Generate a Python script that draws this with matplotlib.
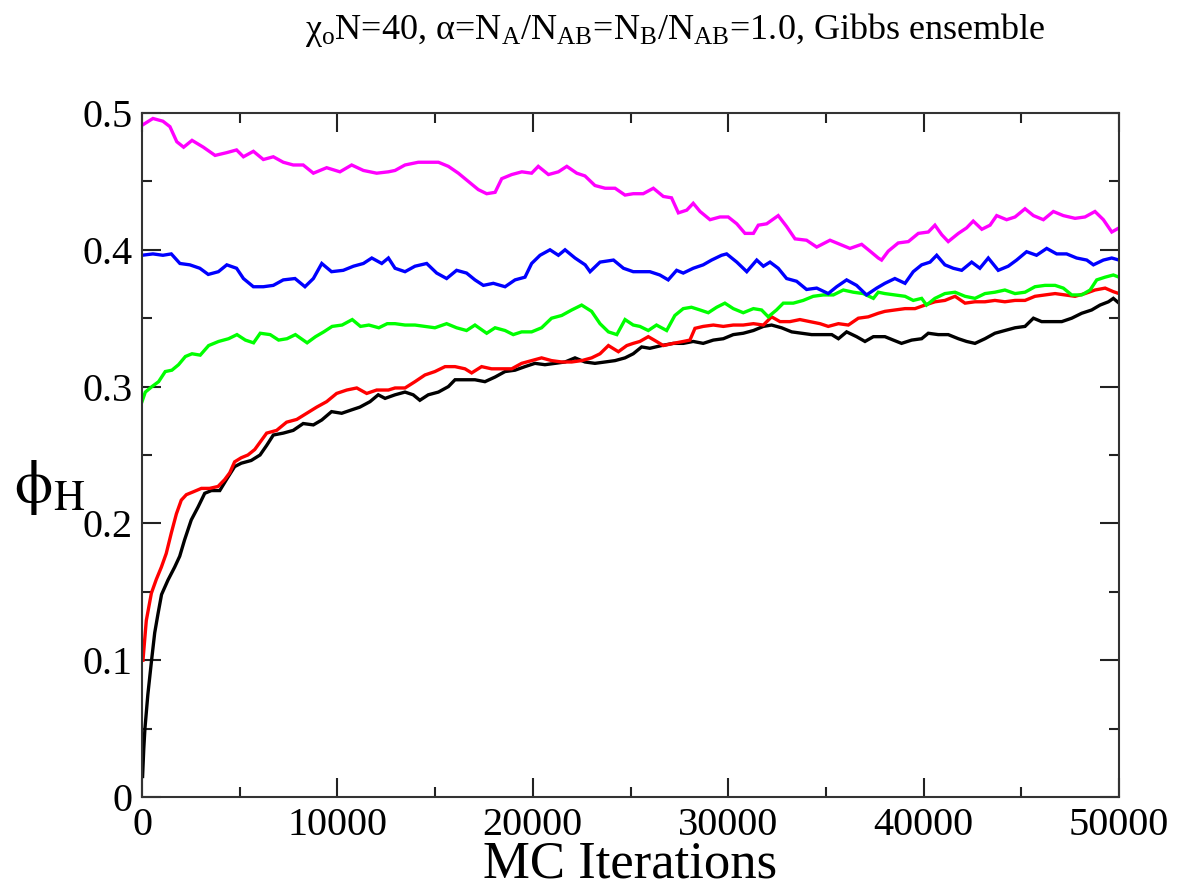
import matplotlib
matplotlib.use("Agg")
import matplotlib.pyplot as plt
from matplotlib.ticker import MultipleLocator

# ---- data (MC iteration, phi_H) ----
black_pts = [(30,0.015),(90,0.035),(150,0.05),(300,0.075),(490,0.100),(650,0.120),(820,0.134),(1000,0.148),
 (1330,0.1586),(1670,0.168),(1930,0.176),(2180,0.188),(2520,0.2025),(2870,0.212),(3210,0.222),(3550,0.224),
 (3980,0.224),(4320,0.232),(4740,0.2415),(5080,0.244),(5590,0.246),(6040,0.250),(6380,0.257),(6720,0.2646),
 (7230,0.266),(7740,0.268),(8250,0.273),(8770,0.272),(9200,0.2756),(9700,0.2817),(10220,0.2805),(10730,0.283),
 (11150,0.285),(11670,0.289),(12090,0.294),(12440,0.2914),(12950,0.294),(13460,0.296),(13880,0.294),(14220,0.290),
 (14650,0.294),(15170,0.296),(15680,0.300),(16020,0.305),(16530,0.305),(17040,0.305),(17550,0.3036),(18070,0.307),
 (18580,0.311),(19090,0.312),(19600,0.3146),(20110,0.317),(20620,0.316),(21140,0.317),(21650,0.318),(22160,0.321),
 (22670,0.318),(23180,0.317),(23700,0.318),(24210,0.319),(24720,0.321),(25140,0.324),(25570,0.329),(25990,0.328),
 (26590,0.330),(27190,0.3316),(27700,0.3316),(28210,0.333),(28720,0.3316),(29240,0.334),(29750,0.335),(30260,0.338),
 (30770,0.339),(31290,0.341),(31800,0.344),(32220,0.345),(32730,0.343),(33250,0.340),(33760,0.339),(34270,0.338),
 (34780,0.338),(35300,0.338),(35640,0.335),(36060,0.340),(36570,0.3365),(37000,0.333),(37430,0.3365),(38020,0.3365),
 (38450,0.334),(38870,0.3316),(39390,0.334),(39900,0.335),(40240,0.339),(40750,0.338),(41260,0.338),(41780,0.335),
 (42200,0.333),(42630,0.3316),(43140,0.335),(43650,0.339),(44160,0.341),(44680,0.343),(45190,0.344),(45620,0.350),
 (46040,0.3475),(46560,0.3475),(47070,0.3475),(47580,0.350),(48090,0.3536),(48600,0.356),(49030,0.3596),(49460,0.362),
 (49710,0.3645),(50000,0.361)]

red_pts = [(50,0.100),(220,0.129),(480,0.149),(730,0.159),(990,0.168),(1240,0.178),(1500,0.193),(1760,0.207),
 (2010,0.217),(2270,0.221),(2610,0.223),(3040,0.2256),(3460,0.2256),(3890,0.227),(4230,0.232),(4490,0.237),
 (4740,0.245),(5080,0.248),(5420,0.250),(5770,0.254),(6380,0.266),(6890,0.268),(7400,0.274),(7920,0.276),
 (8430,0.2805),(8940,0.285),(9450,0.289),(9960,0.295),(10480,0.2975),(10990,0.299),(11500,0.295),(12010,0.2975),
 (12610,0.2975),(12950,0.299),(13460,0.299),(13970,0.3036),(14480,0.3085),(14990,0.311),(15510,0.3146),(16020,0.3146),
 (16530,0.313),(16870,0.310),(17380,0.3146),(17890,0.313),(18410,0.313),(18920,0.313),(19430,0.317),(19940,0.319),
 (20450,0.321),(20960,0.319),(21480,0.318),(21990,0.318),(22500,0.319),(23010,0.321),(23440,0.324),(23870,0.330),
 (24380,0.3255),(24810,0.330),(25140,0.3316),(25480,0.333),(25910,0.3365),(26330,0.333),(26680,0.330),(27190,0.3316),
 (27700,0.333),(28040,0.334),(28300,0.3426),(28720,0.344),(29240,0.345),(29750,0.344),(30260,0.345),(30770,0.345),
 (31290,0.346),(31800,0.345),(32220,0.351),(32650,0.3475),(33160,0.3475),(33670,0.349),(34180,0.3475),(34700,0.346),
 (35120,0.344),(35640,0.346),(36150,0.345),(36660,0.350),(37170,0.351),(37680,0.3536),(38020,0.355),(38530,0.356),
 (39050,0.357),(39560,0.357),(40070,0.3596),(40580,0.362),(41090,0.363),(41610,0.366),(42120,0.361),(42630,0.362),
 (43140,0.362),(43650,0.363),(44160,0.362),(44680,0.363),(45190,0.363),(45700,0.366),(46210,0.367),(46730,0.368),
 (47240,0.367),(47750,0.366),(48260,0.368),(48770,0.3706),(49290,0.372),(49710,0.3694),(50000,0.368)]

green_pts = [(0,0.289),(170,0.296),(510,0.300),(850,0.3036),(1190,0.311),(1530,0.312),(1870,0.316),(2220,0.322),
 (2560,0.324),(2980,0.323),(3410,0.330),(3920,0.333),(4430,0.335),(4860,0.338),(5290,0.334),(5710,0.332),
 (6050,0.339),(6560,0.338),(6990,0.334),(7420,0.335),(7850,0.338),(8450,0.332),(8880,0.3365),(9300,0.340),
 (9730,0.344),(10240,0.345),(10760,0.349),(11180,0.344),(11610,0.345),(12120,0.343),(12550,0.346),(12950,0.346),
 (13460,0.345),(13970,0.345),(14480,0.344),(14990,0.343),(15590,0.346),(16100,0.343),(16610,0.341),(17040,0.345),
 (17640,0.339),(18070,0.343),(18580,0.341),(19000,0.338),(19430,0.340),(19940,0.340),(20450,0.343),(20960,0.350),
 (21480,0.352),(21990,0.356),(22500,0.3596),(23010,0.355),(23440,0.346),(23870,0.340),(24300,0.338),(24720,0.349),
 (25140,0.345),(25480,0.344),(25910,0.341),(26330,0.345),(26850,0.341),(27270,0.352),(27700,0.357),(28120,0.358),
 (28560,0.356),(28980,0.354),(29410,0.358),(29830,0.361),(30260,0.357),(30770,0.354),(31290,0.357),(31710,0.356),
 (32050,0.351),(32470,0.356),(32820,0.361),(33330,0.361),(33840,0.363),(34350,0.366),(34870,0.367),(35380,0.367),
 (35890,0.3706),(36400,0.369),(36910,0.368),(37430,0.3645),(37680,0.369),(38020,0.368),(38530,0.367),(39050,0.366),
 (39470,0.363),(39900,0.3645),(40150,0.3596),(40580,0.3645),(41090,0.368),(41610,0.369),(42120,0.366),(42630,0.3645),
 (43140,0.368),(43650,0.369),(44160,0.3706),(44680,0.368),(45190,0.369),(45700,0.373),(46210,0.374),(46730,0.374),
 (47150,0.372),(47580,0.367),(48090,0.367),(48520,0.3706),(48860,0.378),(49290,0.380),(49710,0.3816),(50000,0.380)]

blue_pts = [(0,0.396),(560,0.397),(1070,0.396),(1500,0.397),(1940,0.390),(2450,0.389),(2960,0.3865),(3390,0.382),
 (3910,0.384),(4340,0.389),(4840,0.3865),(5190,0.379),(5700,0.373),(6210,0.373),(6720,0.374),(7230,0.378),
 (7830,0.379),(8340,0.373),(8770,0.379),(9200,0.390),(9700,0.384),(10300,0.385),(10820,0.388),(11330,0.390),
 (11760,0.394),(12270,0.390),(12610,0.394),(12950,0.3865),(13460,0.384),(13970,0.388),(14570,0.390),(15080,0.383),
 (15590,0.379),(16100,0.385),(16610,0.383),(17040,0.378),(17470,0.374),(17980,0.3755),(18580,0.373),(19090,0.378),
 (19600,0.380),(19940,0.390),(20370,0.396),(20880,0.400),(21310,0.396),(21650,0.400),(22160,0.394),(22680,0.389),
 (22930,0.384),(23440,0.391),(24130,0.3925),(24640,0.3865),(25140,0.384),(25480,0.384),(25990,0.384),(26500,0.3816),
 (26930,0.378),(27360,0.385),(27700,0.383),(28210,0.3865),(28720,0.389),(29150,0.3925),(29660,0.396),(29920,0.397),
 (30440,0.391),(30950,0.384),(31460,0.3925),(31800,0.388),(32140,0.391),(32560,0.3865),(32990,0.379),(33500,0.377),
 (34010,0.371),(34530,0.372),(35120,0.368),(35550,0.373),(36060,0.378),(36570,0.374),(37080,0.367),(37600,0.372),
 (38020,0.3755),(38530,0.379),(39050,0.3755),(39470,0.384),(39900,0.389),(40330,0.391),(40670,0.396),(41090,0.389),
 (41520,0.3865),(41950,0.385),(42460,0.391),(42880,0.3865),(43310,0.394),(43820,0.385),(44330,0.388),(44760,0.3925),
 (45270,0.3986),(45780,0.396),(46300,0.401),(46810,0.397),(47320,0.397),(47830,0.394),(48350,0.3925),(48690,0.389),
 (49200,0.3925),(49630,0.394),(50000,0.3925)]

magenta_pts = [(0,0.491),(560,0.496),(1070,0.494),(1430,0.490),(1780,0.479),(2130,0.475),(2560,0.480),(3140,0.475),
 (3740,0.469),(4330,0.471),(4840,0.473),(5190,0.468),(5700,0.472),(6210,0.466),(6720,0.468),(7230,0.464),
 (7740,0.462),(8250,0.462),(8770,0.456),(9450,0.460),(10130,0.457),(10730,0.462),(11330,0.458),(12010,0.456),
 (12610,0.457),(12950,0.458),(13460,0.462),(14140,0.464),(14650,0.464),(15170,0.464),(15680,0.461),(16190,0.456),
 (16700,0.450),(17210,0.444),(17640,0.441),(18070,0.442),(18410,0.452),(18920,0.455),(19440,0.457),(19940,0.456),
 (20280,0.461),(20800,0.455),(21310,0.457),(21740,0.461),(22250,0.456),(22670,0.454),(23180,0.447),(23700,0.445),
 (24210,0.445),(24720,0.440),(25140,0.441),(25650,0.441),(26170,0.445),(26680,0.439),(27100,0.438),(27450,0.427),
 (27880,0.429),(28210,0.434),(28560,0.428),(29070,0.422),(29580,0.424),(30000,0.424),(30440,0.419),(30860,0.412),
 (31290,0.412),(31540,0.418),(31970,0.419),(32560,0.425),(32990,0.417),(33420,0.408),(34010,0.407),(34530,0.402),
 (35210,0.407),(35720,0.404),(36230,0.401),(36830,0.404),(37260,0.399),(37680,0.394),(37850,0.3925),(38190,0.399),
 (38700,0.405),(39220,0.406),(39730,0.412),(40240,0.413),(40580,0.418),(40930,0.411),(41260,0.406),(41780,0.412),
 (42200,0.416),(42540,0.421),(42980,0.415),(43400,0.418),(43740,0.425),(44250,0.422),(44680,0.424),(45190,0.430),
 (45620,0.425),(46130,0.422),(46640,0.428),(47150,0.425),(47750,0.423),(48260,0.424),(48770,0.428),(49200,0.422),
 (49630,0.413),(50000,0.416)]

series = [(black_pts, "#000000"), (red_pts, "#ff0000"), (green_pts, "#00ff00"),
          (blue_pts, "#0000ff"), (magenta_pts, "#ff00ff")]

x_ticks = [0, 10000, 20000, 30000, 40000, 50000]
y_ticks = [0, 0.1, 0.2, 0.3, 0.4, 0.5]
y_ticklabels = ["0", "0.1", "0.2", "0.3", "0.4", "0.5"]

title_text = ("χ$_{\\mathrm{o}}$N=40, α=N$_{\\mathrm{A}}$/N$_{\\mathrm{AB}}$"
              "=N$_{\\mathrm{B}}$/N$_{\\mathrm{AB}}$=1.0, Gibbs ensemble")

# ---- styling ----
plt.rcParams['font.family'] = ['Liberation Serif', 'DejaVu Serif']
plt.rcParams['mathtext.fontset'] = 'custom'
plt.rcParams['mathtext.rm'] = 'Liberation Serif'
plt.rcParams['mathtext.it'] = 'Liberation Serif:italic'
plt.rcParams['mathtext.bf'] = 'Liberation Serif:bold'

fig = plt.figure(figsize=(11.88, 8.89), dpi=100)
ax = fig.add_axes([142/1188, 1-797/889, (1119-142)/1188, (797-113)/889])

for pts, col in series:
    xs = [p[0] for p in pts]
    ys = [p[1] for p in pts]
    ax.plot(xs, ys, color=col, lw=2.4, solid_joinstyle='miter')

ax.set_xlim(0, 50000)
ax.set_ylim(0, 0.5)
ax.set_xticks(x_ticks)
ax.set_xticklabels([str(v) for v in x_ticks])
ax.set_yticks(y_ticks)
ax.set_yticklabels(y_ticklabels)
ax.xaxis.set_minor_locator(MultipleLocator(5000))
ax.yaxis.set_minor_locator(MultipleLocator(0.05))
ax.tick_params(which='both', direction='in', top=True, right=True, width=1.5, colors='#222222')
ax.tick_params(which='major', length=14, labelsize=29, pad=7, labelcolor='black')
ax.tick_params(which='minor', length=7)
for s in ax.spines.values():
    s.set_linewidth(1.5)
    s.set_color('#333333')

ax.set_xlabel("MC Iterations", fontsize=38)
ax.xaxis.set_label_coords(0.5, -0.098)
ax.xaxis.label.set_va('center')
ax.set_ylabel(r"$\mathrm{\phi}_{\mathrm{H}}$", fontsize=44, rotation=0,
              math_fontfamily='stix')
ax.yaxis.label.set_ha('center')
ax.yaxis.label.set_va('center')
ax.yaxis.set_label_coords(-0.095, 0.452)

fig.text(675/1188, 1-30/889, title_text, fontsize=26, ha='center', va='center')

fig.savefig("out.png", dpi=100)
